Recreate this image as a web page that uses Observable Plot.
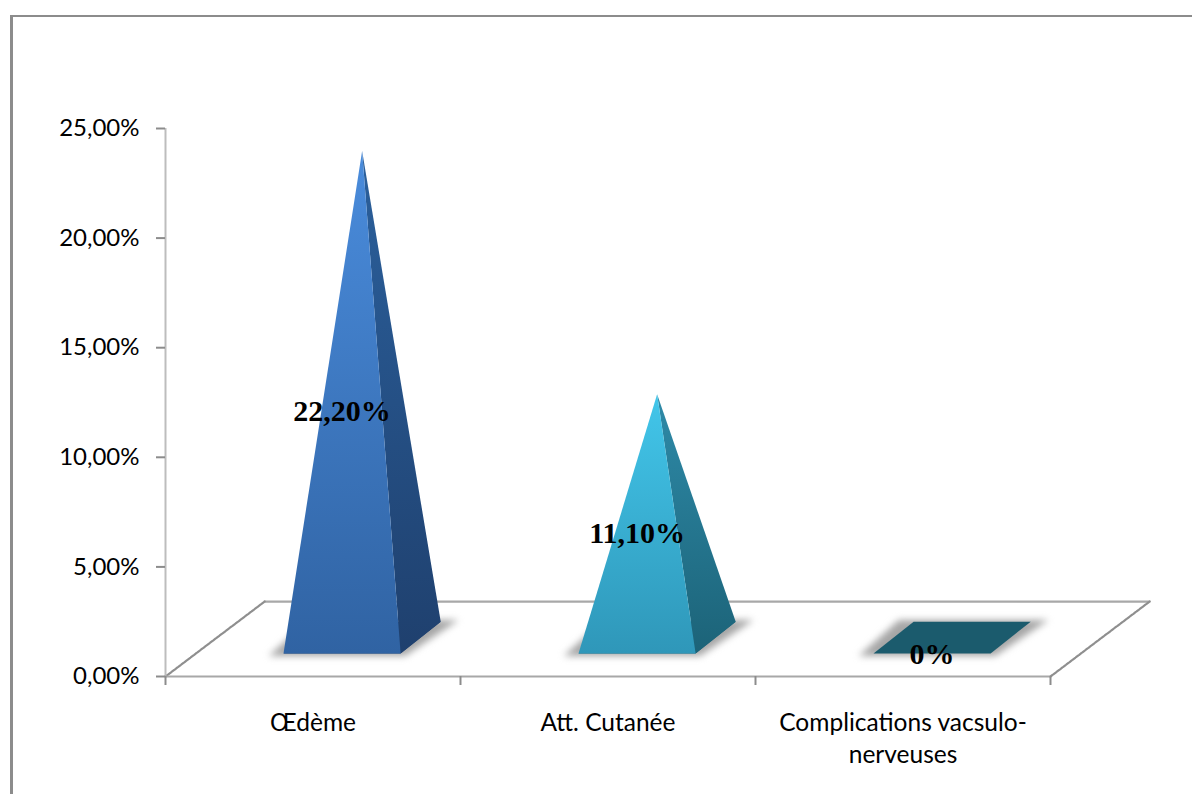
<!DOCTYPE html>
<html lang="fr">
<head>
<meta charset="utf-8">
<title>Complications</title>
<script src="https://cdn.jsdelivr.net/npm/d3@7"></script>
<script src="https://cdn.jsdelivr.net/npm/@observablehq/plot@0.6"></script>
<style>
  html, body { margin: 0; padding: 0; background: #fff; overflow: hidden; }
  #chart { position: absolute; left: 0; top: 0; }
  #border {
    position: absolute; left: 10px; top: 15px; right: 0; bottom: -4px;
    border-left: 3px solid #8c8c8c; border-top: 2px solid #8c8c8c;
  }
</style>
</head>
<body>
<div id="border"></div>
<div id="chart"></div>
<script>
// Series
const categories = ["Œdème", "Att. Cutanée", "Complications vacsulo-\nnerveuses"];
const values = [22.2, 11.1, 0];
const valueLabels = ["22,20%", "11,10%", "0%"];
const yTicks = [0, 5, 10, 15, 20, 25];
const yTickLabels = ["0,00%", "5,00%", "10,00%", "15,00%", "20,00%", "25,00%"];
const xTicks = [0, 1, 2, 3];

// Face colours per category: [top, bottom] of each gradient
const frontColors = [["#4a8cdc", "#3063a3"], ["#42c6ea", "#2f97b9"], ["#1b5b6d", "#1b5b6d"]];
const sideColors = [["#2b609c", "#1f406e"], ["#2e8aa8", "#1c6378"], ["#1b5b6d", "#1b5b6d"]];
const baseColors = ["#1f406e", "#1c6378", "#1b5b6d"];

// Oblique floor, in data units (category steps across, percent points up)
const floorDepthX = 0.336;
const floorDepthY = 3.42;

// Pyramid footprint inside each category step
const baseLeft = 0.4, baseRight = 0.797;
const baseFront = 1.05, baseBack = 2.5;
const baseShearX = 0.136;
const centerX = (baseLeft + baseRight + baseShearX) / 2;
const centerY = (baseFront + baseBack) / 2;

const corners = (i) => ({
  fl: {x: i + baseLeft, y: baseFront},
  fr: {x: i + baseRight, y: baseFront},
  br: {x: i + baseRight + baseShearX, y: baseBack},
  bl: {x: i + baseLeft + baseShearX, y: baseBack}
});

const face = (points, fill) => Plot.line(points, {x: "x", y: "y", fill, stroke: "none", curve: "linear"});

// Vertical gradients for the lit and shaded faces
function gradients() {
  const defs = d3.create("svg:defs");
  const add = (id, [top, bottom]) => {
    const g = defs.append("linearGradient").attr("id", id)
      .attr("x1", 0).attr("y1", 0).attr("x2", 0).attr("y2", 1);
    g.append("stop").attr("offset", "0%").attr("stop-color", top);
    g.append("stop").attr("offset", "100%").attr("stop-color", bottom);
  };
  categories.forEach((_, i) => {
    add(`front-${i}`, frontColors[i]);
    add(`side-${i}`, sideColors[i]);
  });
  return defs.node();
}

// Soft contact shadow spreading sideways past the footprint
function shadow(i) {
  const c = corners(i);
  return Plot.line([
    {x: c.fl.x - 0.05, y: c.fl.y - 0.12},
    {x: c.fr.x + 0.015, y: c.fr.y - 0.12},
    {x: c.br.x + 0.06, y: c.br.y + 0.08},
    {x: c.bl.x - 0.05, y: c.bl.y + 0.08}
  ], {x: "x", y: "y", fill: "#a6a6a6", stroke: "none", imageFilter: "blur(3.5px)"});
}

function pyramid(value, i) {
  const c = corners(i);
  const apex = {x: i + centerX, y: centerY + value};
  const base = face([c.fl, c.fr, c.br, c.bl], baseColors[i]);
  if (value === 0) return [base];
  return [
    base,
    face([c.fr, c.br, apex], `url(#side-${i})`),
    face([c.fl, c.fr, apex], `url(#front-${i})`)
  ];
}

const axisStroke = "#a8a8a8";
const diagonalStroke = "#8f8f8f";
const backLeft = {x: floorDepthX, y: floorDepthY};
const backRight = {x: 3 + floorDepthX, y: floorDepthY};

const chart = Plot.plot({
  width: 1192,
  height: 794,
  marginLeft: 165,
  marginRight: 142,
  marginTop: 128,
  marginBottom: 118,
  style: {fontFamily: "Lato, sans-serif", fontSize: "24px", fontVariantLigatures: "none", color: "#000", background: "transparent", overflow: "visible"},
  x: {domain: [0, 3], range: [165, 1050]},
  y: {domain: [0, 25], range: [676, 128]},
  marks: [
    gradients,
    // Floor outline: back edge and the two receding edges
    Plot.line([backLeft, backRight], {x: "x", y: "y", stroke: axisStroke, strokeWidth: 2.2}),
    Plot.line([{x: 0, y: 0}, backLeft], {x: "x", y: "y", stroke: diagonalStroke, strokeWidth: 2.2, strokeDasharray: "3 1"}),
    Plot.line([{x: 3, y: 0}, backRight], {x: "x", y: "y", stroke: diagonalStroke, strokeWidth: 2.2, strokeDasharray: "3 1"}),
    // Axes
    Plot.ruleX([0], {y1: 0, y2: 25, stroke: "#bdbdbd", strokeWidth: 2}),
    Plot.ruleY([0], {x1: 0, x2: 3, stroke: axisStroke, strokeWidth: 2}),
    Plot.axisY({
      ticks: yTicks, tickSize: 9, tickPadding: 17, stroke: "#8c8c8c", strokeWidth: 2,
      tickFormat: (d) => yTickLabels[yTicks.indexOf(d)], label: null
    }),
    Plot.axisX({
      ticks: xTicks, tickSize: 9, stroke: "#8c8c8c", strokeWidth: 2,
      tickFormat: () => "", label: null
    }),
    Plot.axisX({
      ticks: [0.5, 1.5, 2.5], tickSize: 0, tickPadding: 32, label: null, lineHeight: 1.3, fontSize: 24.5,
      tickFormat: (d) => categories[Math.floor(d)]
    }),
    // Pyramids
    values.map((_, i) => shadow(i)),
    values.map(pyramid),
    // Value labels at each pyramid's mid-height
    Plot.text(values, {
      x: (_, i) => i + (baseLeft + baseRight) / 2,
      y: (d) => d / 2 + 1,
      text: (_, i) => valueLabels[i],
      fontFamily: "'Liberation Serif', serif",
      fontWeight: "bold",
      fontSize: 30,
      fill: "#000"
    })
  ]
});
document.getElementById("chart").append(chart);
</script>
</body>
</html>
